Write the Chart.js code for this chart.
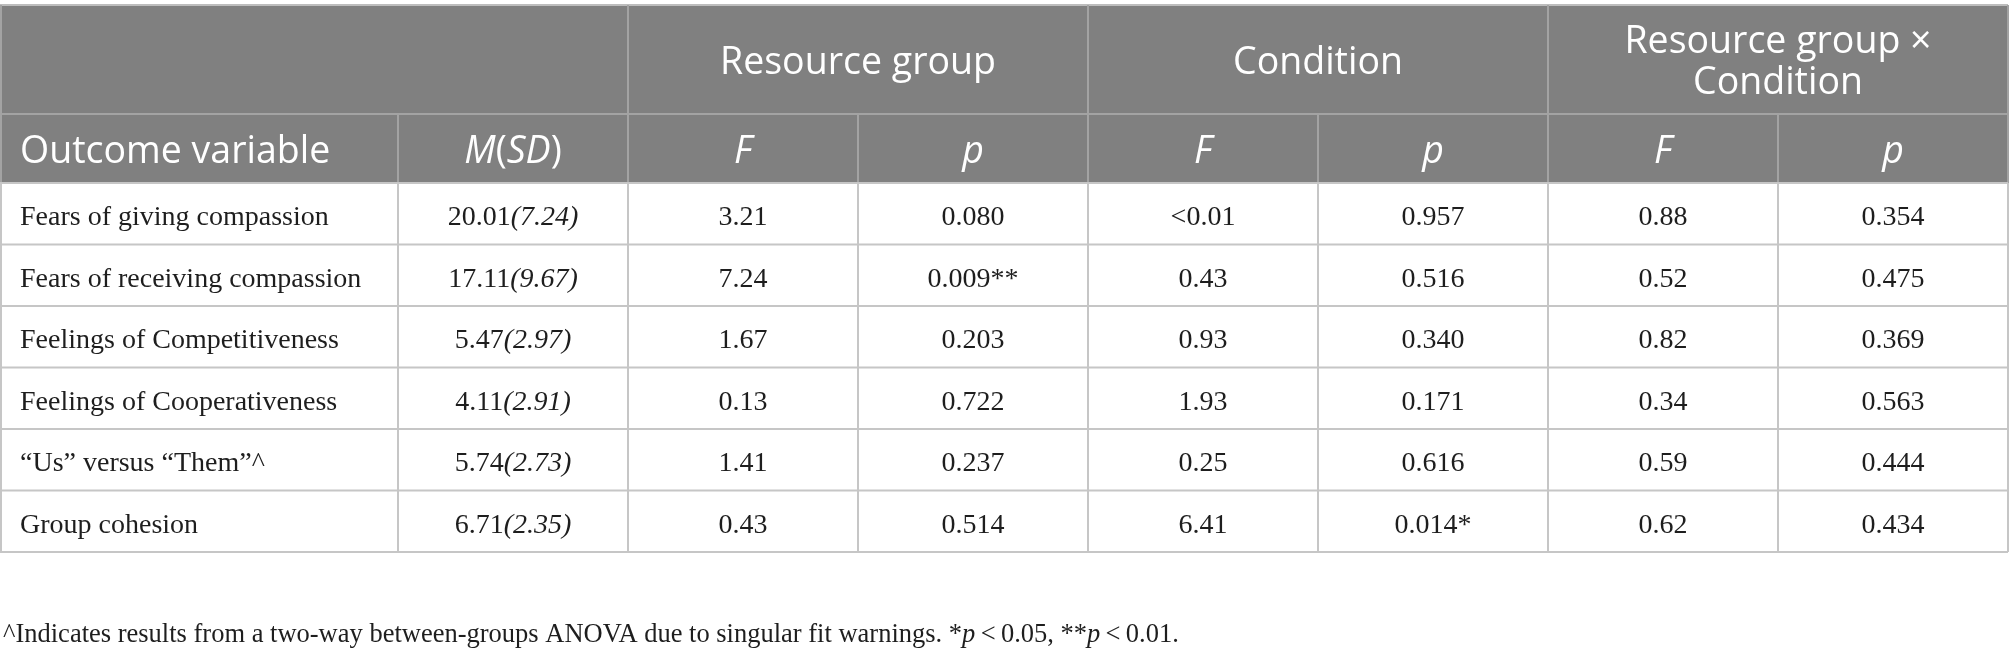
<!DOCTYPE html>
<html><head><meta charset="utf-8">
<script src="https://cdn.jsdelivr.net/npm/chart.js@4.4.1/dist/chart.umd.min.js"></script>
<style>html,body{margin:0;padding:0;background:#fff;overflow:hidden}canvas{display:block}</style>
</head><body>
<canvas id="c" width="2009" height="657"></canvas>
<script>
// ---------------- DATA ----------------
const groupHeaders = ['Resource group', 'Condition', 'Resource group \u00d7\nCondition'];
const firstHeaders = ['Outcome variable', 'M(SD)'];
const statHeaders = ['F', 'p', 'F', 'p', 'F', 'p'];
const outcomes = [
  'Fears of giving compassion',
  'Fears of receiving compassion',
  'Feelings of Competitiveness',
  'Feelings of Cooperativeness',
  '\u201cUs\u201d versus \u201cThem\u201d^',
  'Group cohesion'
];
const means = ['20.01', '17.11', '5.47', '4.11', '5.74', '6.71'];
const sds = ['7.24', '9.67', '2.97', '2.91', '2.73', '2.35'];
const resourceF = ['3.21', '7.24', '1.67', '0.13', '1.41', '0.43'];
const resourceP = ['0.080', '0.009**', '0.203', '0.722', '0.237', '0.514'];
const conditionF = ['<0.01', '0.43', '0.93', '1.93', '0.25', '6.41'];
const conditionP = ['0.957', '0.516', '0.340', '0.171', '0.616', '0.014*'];
const interactionF = ['0.88', '0.52', '0.82', '0.34', '0.59', '0.62'];
const interactionP = ['0.354', '0.475', '0.369', '0.563', '0.444', '0.434'];
const footnoteParts = [
  ['^Indicates results from a two-way between-groups ANOVA due to singular fit warnings. *', false],
  ['p', true],
  ['\u2009<\u20090.05, **', false],
  ['p', true],
  ['\u2009<\u20090.01.', false]
];

// ---------------- LAYOUT (scale units) ----------------
const COL_EDGES = [0, 398, 628, 858, 1088, 1318, 1548, 1778, 2008];
const HEAD_TOP = 5, HEAD_MID = 114, HEAD_BOT = 183;
const ROW_H = 61.5;
const N_ROWS = outcomes.length;
const BODY_BOT = HEAD_BOT + ROW_H * N_ROWS;
const PAD_LEFT = 20;
const FOOT_X = 3, FOOT_Y = 633;

const HEAD_BG = '#808080', HEAD_LINE = '#a3a3a3', BODY_LINE = '#c6c6c6';
const HEAD_COLOR = '#ffffff', BODY_COLOR = '#1e1e1e';
const FONTS = {
  sans: {family: '"Open Sans"', size: 37.5, cap: 0.714, lineH: 41, off: 1},
  serif: {family: '"Liberation Serif"', size: 28, cap: 0.662, lineH: 32, off: 2},
  foot: {family: '"Liberation Serif"', size: 26.5, cap: 0.662, lineH: 30, off: 0}
};

const colMid = c => (COL_EDGES[c] + COL_EDGES[c + 1]) / 2;
const rowMid = r => HEAD_BOT + ROW_H * (r + 0.5);
const plain = t => [[t, false]];

// ---------------- DATASETS ----------------
const datasets = [];
// group header row
datasets.push({
  data: groupHeaders.map((g, i) => ({x: (COL_EDGES[2 + 2 * i] + COL_EDGES[4 + 2 * i]) / 2, y: (HEAD_TOP + HEAD_MID) / 2})),
  cells: groupHeaders.map(g => ({lines: g.split('\n').map(plain), align: 'center', kind: 'sans', color: HEAD_COLOR}))
});
// column header row
datasets.push({
  data: [{x: COL_EDGES[0] + PAD_LEFT, y: (HEAD_MID + HEAD_BOT) / 2}, {x: colMid(1), y: (HEAD_MID + HEAD_BOT) / 2}]
    .concat(statHeaders.map((s, i) => ({x: colMid(2 + i), y: (HEAD_MID + HEAD_BOT) / 2}))),
  cells: [
    {lines: [plain(firstHeaders[0])], align: 'left', kind: 'sans', color: HEAD_COLOR},
    {lines: [[['M', true], ['(', false], ['SD', true], [')', false]]], align: 'center', kind: 'sans', color: HEAD_COLOR}
  ].concat(statHeaders.map(s => ({lines: [[[s, true]]], align: 'center', kind: 'sans', color: HEAD_COLOR})))
});
// body: outcome names
datasets.push({
  data: outcomes.map((o, r) => ({x: COL_EDGES[0] + PAD_LEFT, y: rowMid(r)})),
  cells: outcomes.map(o => ({lines: [plain(o)], align: 'left', kind: 'serif', color: BODY_COLOR}))
});
// body: M(SD)
datasets.push({
  data: means.map((m, r) => ({x: colMid(1), y: rowMid(r)})),
  cells: means.map((m, r) => ({lines: [[[m, false], ['(' + sds[r] + ')', true]]], align: 'center', kind: 'serif', color: BODY_COLOR}))
});
// body: stats
[resourceF, resourceP, conditionF, conditionP, interactionF, interactionP].forEach((arr, i) => {
  datasets.push({
    data: arr.map((v, r) => ({x: colMid(2 + i), y: rowMid(r)})),
    cells: arr.map(v => ({lines: [plain(v)], align: 'center', kind: 'serif', color: BODY_COLOR}))
  });
});
// footnote
datasets.push({
  data: [{x: FOOT_X, y: FOOT_Y}],
  cells: [{lines: [footnoteParts], align: 'left', kind: 'foot', color: BODY_COLOR}]
});

// ---------------- PLUGINS ----------------
const tableGrid = {
  id: 'tableGrid',
  beforeDatasetsDraw(chart) {
    const {ctx, scales: {x, y}} = chart;
    const X = v => x.getPixelForValue(v), Y = v => y.getPixelForValue(v);
    ctx.save();
    ctx.fillStyle = HEAD_BG;
    ctx.fillRect(X(COL_EDGES[0]), Y(HEAD_TOP), X(COL_EDGES[8]) - X(COL_EDGES[0]), Y(HEAD_BOT) - Y(HEAD_TOP));
    ctx.lineWidth = 2;
    const line = (x1, y1, x2, y2, col) => {
      ctx.strokeStyle = col; ctx.beginPath(); ctx.moveTo(X(x1), Y(y1)); ctx.lineTo(X(x2), Y(y2)); ctx.stroke();
    };
    // header lines
    line(COL_EDGES[0], HEAD_TOP, COL_EDGES[8], HEAD_TOP, '#bdbdbd');
    line(COL_EDGES[0], HEAD_MID, COL_EDGES[8], HEAD_MID, HEAD_LINE);
    [2, 4, 6].forEach(c => line(COL_EDGES[c], HEAD_TOP, COL_EDGES[c], HEAD_MID, HEAD_LINE));
    for (let c = 1; c < 8; c++) line(COL_EDGES[c], HEAD_MID, COL_EDGES[c], HEAD_BOT, HEAD_LINE);
    line(COL_EDGES[0] + 1, HEAD_TOP, COL_EDGES[0] + 1, HEAD_BOT, HEAD_LINE);
    line(COL_EDGES[8], HEAD_TOP, COL_EDGES[8], HEAD_BOT, HEAD_LINE);
    // body lines
    for (let r = 0; r <= N_ROWS; r++) line(COL_EDGES[0], HEAD_BOT + ROW_H * r, COL_EDGES[8], HEAD_BOT + ROW_H * r, BODY_LINE);
    for (let c = 0; c <= 8; c++) {
      const cx = c === 0 ? COL_EDGES[0] + 1 : COL_EDGES[c];
      line(cx, HEAD_BOT, cx, BODY_BOT, BODY_LINE);
    }
    ctx.restore();
  }
};

const tableText = {
  id: 'tableText',
  afterDatasetsDraw(chart) {
    const {ctx} = chart;
    ctx.save();
    ctx.textBaseline = 'alphabetic';
    ctx.textAlign = 'left';
    chart.data.datasets.forEach((ds, di) => {
      const meta = chart.getDatasetMeta(di);
      meta.data.forEach((pt, i) => {
        const cell = ds.cells[i];
        const f = FONTS[cell.kind];
        const fontOf = it => (it ? 'italic ' : '') + f.size + 'px ' + f.family;
        ctx.fillStyle = cell.color;
        const n = cell.lines.length;
        cell.lines.forEach((segs, li) => {
          const w = segs.reduce((s, [t, it]) => { ctx.font = fontOf(it); return s + ctx.measureText(t).width; }, 0);
          let sx = cell.align === 'left' ? pt.x : pt.x - w / 2;
          const cy = pt.y + (li - (n - 1) / 2) * f.lineH;
          const base = cy + f.size * f.cap / 2 + f.off;
          segs.forEach(([t, it]) => {
            ctx.font = fontOf(it);
            ctx.fillText(t, sx, base);
            sx += ctx.measureText(t).width;
          });
        });
      });
    });
    ctx.restore();
  }
};

new Chart(document.getElementById('c'), {
  type: 'scatter',
  data: {datasets: datasets.map(d => Object.assign({pointRadius: 0, pointHoverRadius: 0, showLine: false}, d))},
  options: {
    responsive: false,
    animation: false,
    devicePixelRatio: 1,
    events: [],
    layout: {padding: 0},
    plugins: {legend: {display: false}, tooltip: {enabled: false}},
    scales: {
      x: {type: 'linear', min: 0, max: 2009, display: false},
      y: {type: 'linear', min: 0, max: 657, reverse: true, display: false}
    }
  },
  plugins: [tableGrid, tableText]
});
</script>
</body></html>
